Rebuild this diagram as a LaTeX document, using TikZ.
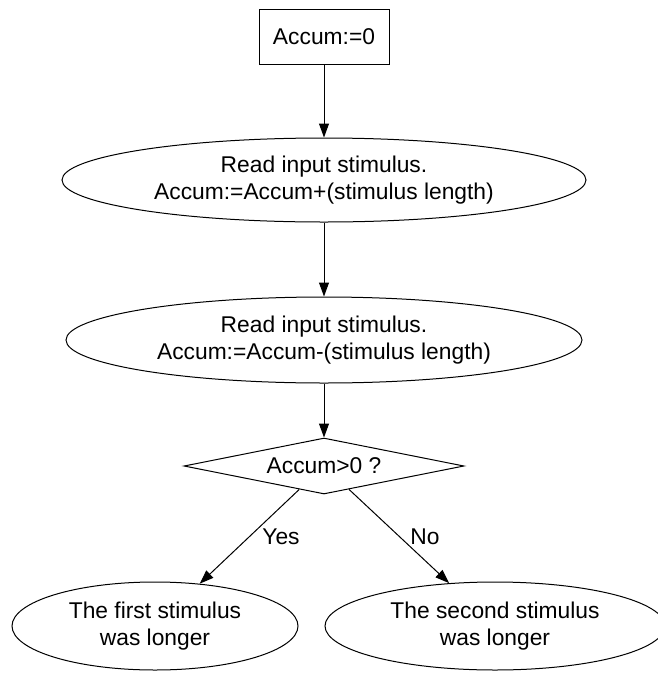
\documentclass[tikz,border=0pt]{standalone}
\usepackage{fontspec}
\setmainfont{Liberation Sans}
\usetikzlibrary{shapes.geometric,arrows.meta}
\begin{document}
\begin{tikzpicture}[x=1pt,y=-1pt,
  every node/.style={font=\fontsize{22.8}{27}\selectfont, align=center, inner sep=0pt, line width=1pt, draw},
  procbox/.style={rectangle, minimum width=130pt, minimum height=55pt},
  oval/.style={ellipse, minimum width=#1},
  test/.style={diamond, aspect=5, minimum width=280pt, minimum height=56pt},
  flow/.style={line width=1pt, -{Triangle[length=14pt,width=10pt]}},
  edgelabel/.style={draw=none, fill=none}]
  \useasboundingbox (0,0) rectangle (657,673);
  \node[procbox] (init) at (324,36.5) {Accum:=0};
  \node[oval=524pt, minimum height=84pt] (readA) at (324,180)
    {Read input stimulus.\\Accum:=Accum+(stimulus length)};
  \node[oval=516pt, minimum height=86pt] (readB) at (324,340)
    {Read input stimulus.\\Accum:=Accum-(stimulus length)};
  \node[test] (cmp) at (324,466) {Accum>0 ?};
  \node[oval=286pt, minimum height=88pt] (first) at (155,626)
    {The first stimulus\\was longer};
  \node[oval=340pt, minimum height=88pt] (second) at (495,626)
    {The second stimulus\\was longer};
  \draw[flow] (init) -- (readA);
  \draw[flow] (readA) -- (readB);
  \draw[flow] (readB) -- (cmp);
  \draw[flow] (cmp) -- (first);
  \draw[flow] (cmp) -- (second);
  \node[edgelabel] (yes) at (281,537) {Yes};
  \node[edgelabel] (no) at (425,537) {No};
\end{tikzpicture}
\end{document}
